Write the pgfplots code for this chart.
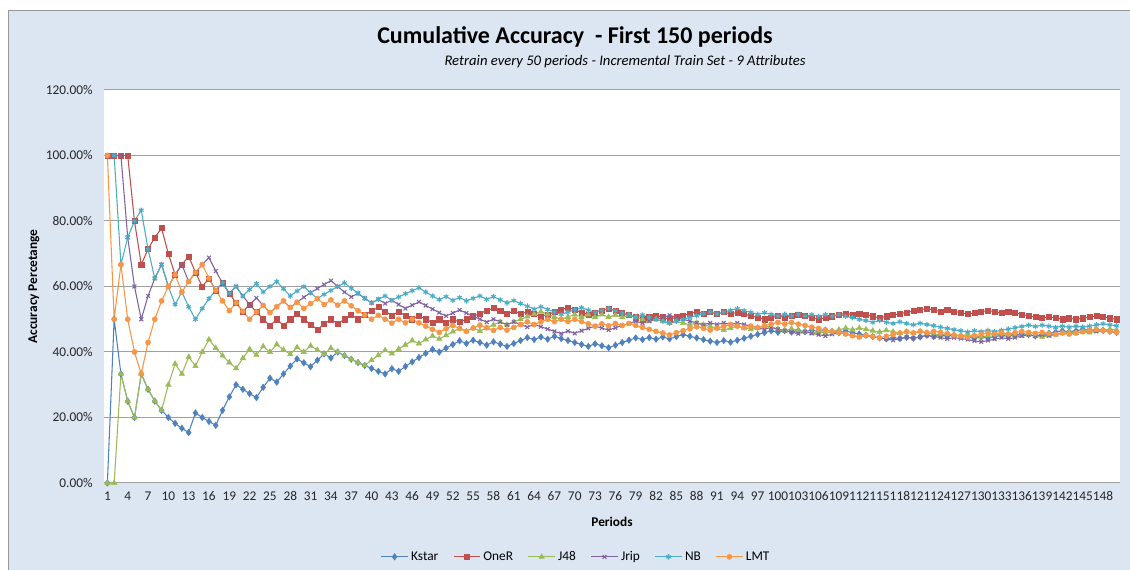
\documentclass[border=0pt]{standalone}
\usepackage{fontspec}
\setmainfont{Carlito}
\usepackage{pgfplots}
\usepackage{pgfplotstable}
\pgfplotsset{compat=1.18}
\definecolor{bgblue}{HTML}{DCE6F2}
\definecolor{gridgray}{HTML}{A0A0A0}
\definecolor{ckstar}{HTML}{4F81BD}
\definecolor{coner}{HTML}{C0504D}
\definecolor{cjfe}{HTML}{9BBB59}
\definecolor{cjrip}{HTML}{8064A2}
\definecolor{cnb}{HTML}{4BACC6}
\definecolor{clmt}{HTML}{F79646}
\pgfplotstableread{
n kstar oner jfe jrip nb lmt
1 0 100 0 100 100 100
2 50 100 0 100 100 50
3 33.3 100 33.3 100 66.7 66.7
4 25 100 25 75 75 50
5 20 80 20 60 80 40
6 33.3 66.7 33.3 50 83.3 33.3
7 28.6 71.4 28.6 57.1 71.4 42.9
8 25 75 25 62.5 62.5 50
9 22.2 77.8 22.2 66.7 66.7 55.6
10 20 70 30 60 60 60
11 18.2 63.6 36.4 63.6 54.5 63.6
12 16.7 66.7 33.3 66.7 58.3 58.3
13 15.4 69.2 38.5 61.5 53.8 61.5
14 21.4 64.3 35.7 64.3 50 64.3
15 20 60 40 66.7 53.3 66.7
16 18.8 62.5 43.8 68.8 56.3 62.5
17 17.6 58.8 41.2 64.7 58.8 58.8
18 22.2 61.1 38.9 61.1 61.1 55.6
19 26.3 57.9 36.8 57.9 57.9 52.6
20 30 55 35 60 60 55
21 28.6 52.4 38.1 57.1 57.1 52.4
22 27.3 54.5 40.9 54.5 59.1 50
23 26.1 52.2 39.1 56.5 60.9 52.2
24 29.2 50 41.7 54.2 58.3 54.2
25 32 48 40 52 60 52
26 30.8 50 42.3 53.8 61.5 53.8
27 33.3 48.1 40.7 55.6 59.3 55.6
28 35.7 50 39.3 53.6 57.1 53.6
29 37.9 51.7 41.4 55.2 58.6 55.2
30 36.7 50 40 56.7 60 53.3
31 35.5 48.4 41.9 58.1 58.1 54.8
32 37.5 46.9 40.6 59.4 56.3 56.3
33 39.4 48.5 39.4 60.6 57.6 54.5
34 38.2 50 41.2 61.8 58.8 55.9
35 40 48.6 40 60 60 54.3
36 38.9 50 38.9 58.3 61.1 55.6
37 37.8 51.4 37.8 56.8 59.5 54.1
38 36.8 50 36.8 57.9 57.9 52.6
39 35.9 51.3 35.9 56.4 56.4 51.3
40 35 52.5 37.5 55 55 50
41 34.1 53.7 39 56.1 56.1 51.2
42 33.3 52.4 40.5 54.8 57.1 50
43 34.9 51.2 39.5 55.8 55.8 48.8
44 34.1 52.3 40.9 54.5 56.8 50
45 35.6 51.1 42.2 53.3 57.8 48.9
46 37 50 43.5 54.3 58.7 50
47 38.3 51.1 42.6 55.3 59.6 48.9
48 39.6 50 43.8 54.2 58.3 47.9
49 40.8 49 44.9 53.1 57.1 46.9
50 40 50 44 52 56 46
51 41.2 49 45.1 51 56.9 47.1
52 42.3 50 46.2 51.9 55.8 48.1
53 43.4 49.1 47.2 52.8 56.6 47.2
54 42.6 50 46.3 51.9 55.6 46.3
55 43.6 50.9 47.3 50.9 56.4 47.3
56 42.9 51.8 46.4 50 57.1 48.2
57 42.1 52.6 47.4 49.1 56.1 47.4
58 43.1 53.4 48.3 50 56.9 46.6
59 42.4 52.5 49.2 49.2 55.9 47.5
60 41.7 51.7 48.3 48.3 55 46.7
61 42.6 52.5 49.2 49.2 55.7 47.5
62 43.5 51.6 50 48.4 54.8 48.4
63 44.4 52.4 50.8 47.6 54 49.2
64 43.8 51.6 51.6 48.4 53.1 48.4
65 44.6 50.8 52.3 47.7 53.8 49.2
66 43.9 51.5 51.5 47 53 50
67 44.8 52.2 50.7 46.3 52.2 49.3
68 44.1 52.9 50 45.6 51.5 50
69 43.5 53.6 50.7 46.4 52.2 49.3
70 42.9 52.9 51.4 45.7 52.9 50
71 42.3 52.1 50.7 46.5 53.5 49.3
72 41.7 51.4 51.4 47.2 52.8 48.6
73 42.5 52.1 50.7 47.9 52.1 47.9
74 41.9 52.7 51.4 47.3 52.7 48.6
75 41.3 53.3 50.7 46.7 53.3 48
76 42.1 52.6 51.3 47.4 52.6 48.7
77 42.9 51.9 50.6 48.1 51.9 48.1
78 43.6 51.3 51.3 48.7 51.3 48.7
79 44.3 50.6 50.6 49.4 50.6 48.1
80 43.8 50 50 48.8 51.3 47.5
81 44.4 50.6 49.4 49.4 50.6 46.9
82 43.9 51.2 50 50 50 46.3
83 44.6 50.6 49.4 50.6 49.4 45.8
84 44 50 48.8 51.2 48.8 45.2
85 44.7 50.6 49.4 50.6 49.4 45.9
86 45.3 51.2 48.8 50 50 46.5
87 44.8 51.7 48.3 49.4 50.6 47.1
88 44.3 52.3 48.9 48.9 51.1 47.7
89 43.8 51.7 48.3 48.3 51.7 47.2
90 43.3 52.2 47.8 48.9 52.2 46.7
91 42.9 51.6 47.3 48.4 51.6 47.3
92 43.5 52.2 46.7 48.9 52.2 47.8
93 43 51.6 47.3 48.4 52.7 48.4
94 43.6 52.1 47.9 48.9 53.2 47.9
95 44.2 51.6 47.4 48.4 52.6 47.4
96 44.8 51 46.9 47.9 52.1 47.9
97 45.4 50.5 47.4 47.4 51.5 47.4
98 45.9 50 48 46.9 52 48
99 46.5 50.5 47.5 47.5 51.5 48.5
100 46 51 47 47 51 49
101 46.5 50.5 46.5 46.5 51.5 48.5
102 46.1 51 47.1 46.1 51 49
103 46.6 51.5 46.6 45.6 51.5 48.5
104 46.2 51 46.2 46.2 51 48.1
105 46.7 50.5 45.7 45.7 51.4 47.6
106 46.2 50 46.2 45.3 50.9 47.2
107 46.7 50.5 45.8 44.9 51.4 46.7
108 46.3 50.9 46.3 45.4 50.9 46.3
109 45.9 51.4 46.8 45.9 51.4 45.9
110 46.4 51.8 47.3 45.5 50.9 45.5
111 45.9 51.4 46.8 45 50.5 45
112 45.5 51.8 47.3 44.6 50 44.6
113 45.1 51.3 46.9 45.1 49.6 45.1
114 44.7 50.9 46.5 44.7 49.1 44.7
115 44.3 50.4 46.1 44.3 49.6 44.3
116 44 50.9 46.6 44 49.1 44.8
117 44.4 51.3 46.2 43.6 48.7 45.3
118 44.1 51.7 45.8 44.1 49.2 45.8
119 44.5 52.1 46.2 44.5 48.7 46.2
120 44.2 52.5 45.8 44.2 48.3 45.8
121 44.6 52.9 46.3 44.6 48.8 46.3
122 45.1 53.3 45.9 45.1 48.4 45.9
123 44.7 52.8 45.5 44.7 48 46.3
124 45.2 52.4 45.2 44.4 47.6 46
125 44.8 52.8 45.6 44 47.2 45.6
126 45.2 52.4 45.2 44.4 46.8 45.2
127 44.9 52 44.9 44.1 46.5 44.9
128 44.5 51.6 45.3 43.8 46.1 44.5
129 44.2 51.9 45 43.4 46.5 45
130 44.6 52.3 44.6 43.1 46.2 45.4
131 44.3 52.7 45 43.5 46.6 45.8
132 44.7 52.3 45.5 43.9 46.2 45.5
133 45.1 51.9 45.1 44.4 46.6 45.9
134 44.8 52.2 45.5 44 47 45.5
135 45.2 51.9 45.2 44.4 47.4 45.9
136 45.6 51.5 44.9 44.9 47.8 46.3
137 45.3 51.1 45.3 45.3 48.2 46
138 44.9 50.7 44.9 44.9 47.8 45.7
139 45.3 50.4 44.6 45.3 48.2 46
140 45.7 50.7 45 45 47.9 45.7
141 46.1 50.4 45.4 45.4 47.5 45.4
142 46.5 50 45.8 45.8 47.9 45.8
143 46.2 50.3 46.2 45.5 47.6 45.5
144 46.5 50 45.8 45.8 47.9 45.8
145 46.9 50.3 46.2 46.2 47.6 46.2
146 46.6 50.7 45.9 46.6 47.9 46.6
147 46.9 51 46.3 46.3 48.3 46.9
148 46.6 50.7 46.6 46.6 48.6 46.6
149 46.3 50.3 47 46.3 48.3 46.3
150 46 50 46.7 46 48 46
}\acc
\begin{document}
\begin{tikzpicture}
\fill[white] (0,0) rectangle (847.5pt,427.5pt);
\useasboundingbox (0,0) rectangle (847.5pt,427.5pt);
\fill[bgblue] (6pt,0) rectangle (847.5pt,419.5pt);
\draw[gray!80,line width=0.75pt] (6pt,0) -- (6pt,419.5pt) -- (847.5pt,419.5pt);
\begin{axis}[
  at={(78pt,65.25pt)}, anchor=south west,
  scale only axis, width=762pt, height=294.75pt,
  xmin=0.5, xmax=150.5, ymin=0, ymax=120,
  clip=false,
  axis background/.style={fill=white},
  axis line style={draw=none},
  major tick length=0pt,
  xtick={1,4,...,148},
  ytick={0,20,...,120},
  yticklabels={0.00\%,20.00\%,40.00\%,60.00\%,80.00\%,100.00\%,120.00\%},
  ymajorgrids, grid style={gridgray, line width=0.75pt},
  tick label style={font=\fontsize{10}{12}\selectfont, text=black!85},
  xticklabel style={/pgf/number format/assume math mode=true, inner xsep=0pt, yshift=-3pt},
  yticklabel style={xshift=-5pt},
  xlabel={Periods}, ylabel={Accuracy Percetange},
  label style={font=\fontsize{10}{12}\selectfont\bfseries},
  xlabel style={at={(axis description cs:0.5,-0.0985)}, anchor=center},
  ylabel style={at={(axis description cs:-0.0689,0.5)}, anchor=center},
  legend columns=6,
  legend style={at={(axis description cs:0.465,-0.188)}, anchor=center, draw=none, fill=none,
    font=\fontsize{10}{12}\selectfont, /tikz/every even column/.append style={column sep=9pt}},
  legend image code/.code={\draw[mark repeat=2,mark phase=2] plot coordinates {(0pt,0pt) (10pt,0pt) (20pt,0pt)};},
  every axis plot/.append style={line width=0.8pt},
]
\addplot[ckstar, mark=diamond*, mark size=2.4pt, mark options={solid,fill=ckstar,line width=0.4pt}] table[x=n,y=kstar] {\acc};
\addlegendentry{Kstar}
\addplot[coner, mark=square*, mark size=1.9pt, mark options={solid,fill=coner,line width=0.4pt}] table[x=n,y=oner] {\acc};
\addlegendentry{OneR}
\addplot[cjfe, mark=triangle*, mark size=2.3pt, mark options={solid,fill=cjfe,line width=0.4pt}] table[x=n,y=jfe] {\acc};
\addlegendentry{J48}
\addplot[cjrip, mark=x, mark size=2pt, mark options={solid,line width=0.8pt}] table[x=n,y=jrip] {\acc};
\addlegendentry{Jrip}
\addplot[cnb, mark=asterisk, mark size=2pt, mark options={solid,line width=0.8pt}] table[x=n,y=nb] {\acc};
\addlegendentry{NB}
\addplot[clmt, mark=*, mark size=1.9pt, mark options={solid,fill=clmt,line width=0.4pt}] table[x=n,y=lmt] {\acc};
\addlegendentry{LMT}
\end{axis}
\node[font=\fontsize{18}{22}\selectfont\bfseries] at (431.25pt,399.75pt) {Cumulative Accuracy\ \ - First 150 periods};
\node[font=\fontsize{11}{13}\selectfont\itshape] at (468.75pt,381pt) {Retrain every 50 periods - Incremental Train Set - 9 Attributes};
\end{tikzpicture}
\end{document}
